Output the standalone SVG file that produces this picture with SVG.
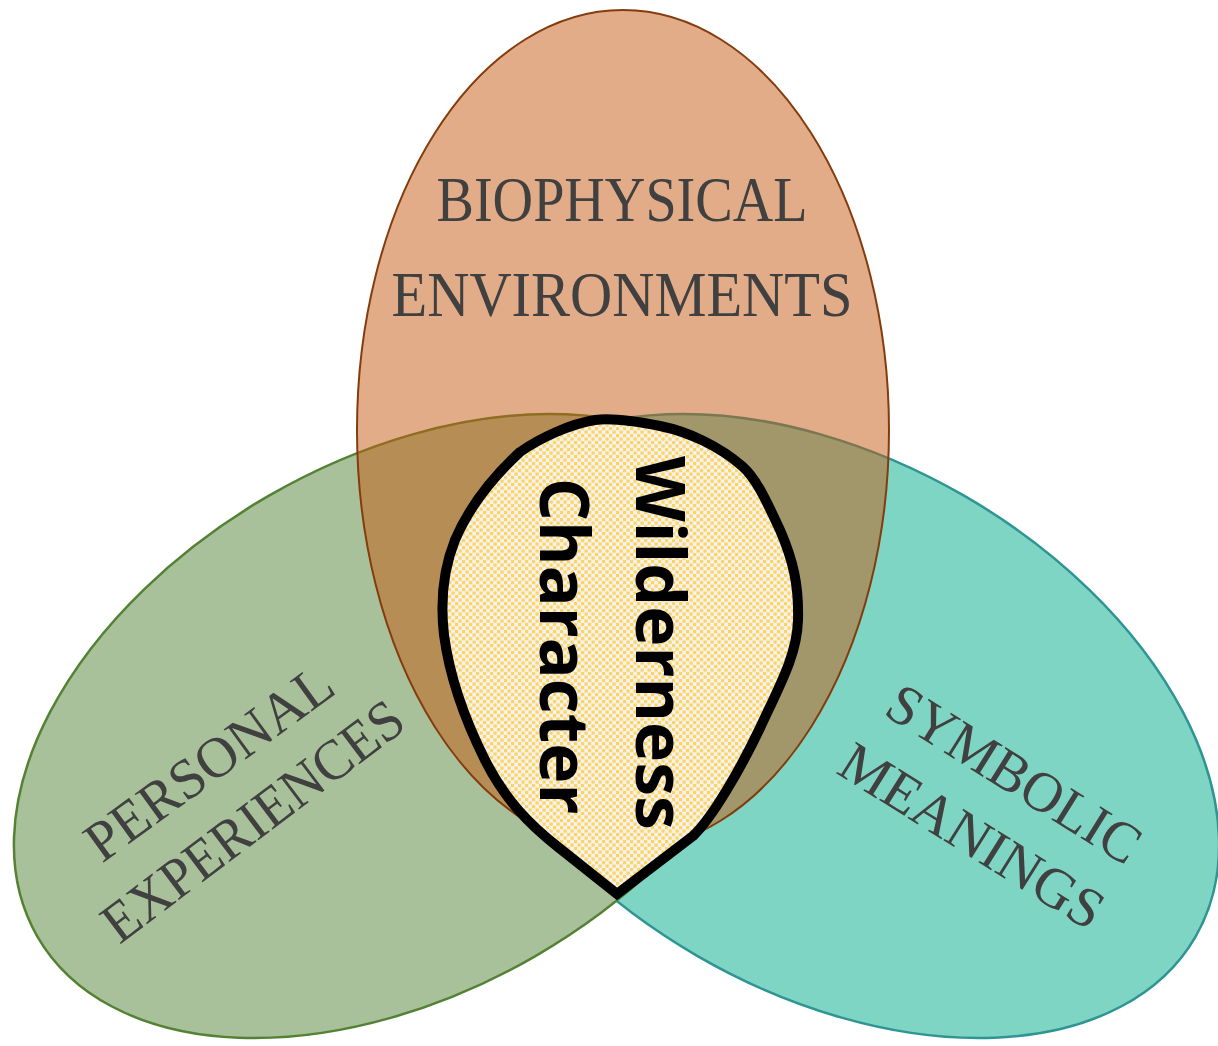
<svg xmlns="http://www.w3.org/2000/svg" width="1218" height="1046" viewBox="0 0 1218 1046">
<defs>
<style>
.lbl{font-family:"Liberation Serif","DejaVu Serif",serif;fill:#404040;text-anchor:middle;}
.core{font-family:"Open Sans","Liberation Sans",sans-serif;font-weight:bold;fill:#000;text-anchor:middle;font-size:68px;}
</style>
<pattern id="dots" width="7" height="7" patternUnits="userSpaceOnUse">
<rect width="7" height="7" fill="#f2f2f2"/>
<rect x="0" y="0" width="3.2" height="3.2" fill="#ffd45c"/>
<rect x="3.5" y="3.5" width="3.2" height="3.2" fill="#ffd45c"/>
</pattern>
</defs>
<rect width="1218" height="1046" fill="#ffffff"/>
<g id="symbolic">
<ellipse cx="831" cy="726" rx="421" ry="266" transform="rotate(30 831 726)" fill="#7fd5c4" stroke="#2e9494" stroke-width="2.5"/>
</g>
<g id="personal">
<ellipse cx="402" cy="726" rx="421" ry="266" transform="rotate(-30 402 726)" fill="#a9c19a" stroke="#548235" stroke-width="2.5"/>
</g>
<g id="biophysical">
<ellipse cx="623" cy="430" rx="266" ry="420" fill="#c55a11" fill-opacity="0.5" stroke="#843c0c" stroke-width="2"/>
<text class="lbl" x="622" y="221" font-size="64" textLength="371" lengthAdjust="spacingAndGlyphs">BIOPHYSICAL</text>
<text class="lbl" x="622" y="316" font-size="64" textLength="461" lengthAdjust="spacingAndGlyphs">ENVIRONMENTS</text>
</g>
<g id="personal-label">
<text class="lbl" font-size="57" textLength="292" lengthAdjust="spacingAndGlyphs" transform="translate(220 778) rotate(-36)">PERSONAL</text>
<text class="lbl" font-size="57" textLength="362" lengthAdjust="spacingAndGlyphs" transform="translate(264 836) rotate(-37)">EXPERIENCES</text>
</g>
<g id="symbolic-label">
<text class="lbl" font-size="57" textLength="288" lengthAdjust="spacingAndGlyphs" transform="translate(1004 790) rotate(32)">SYMBOLIC</text>
<text class="lbl" font-size="57" textLength="300" lengthAdjust="spacingAndGlyphs" transform="translate(962 852) rotate(32)">MEANINGS</text>
</g>
<g id="wilderness-character">
<path d="M617,894 L693,836 C712,818 740,770 760,728 C780,685 797,655 798,620 C799,585 793,560 780,530 C766,500 756,478 742,466 C720,447 690,432 660,426 C630,420 610,418 595,420 C570,424 540,438 520,452 C495,475 470,505 455,540 C443,570 440,600 444,635 C450,680 465,720 485,760 C505,800 530,825 558,847 Z" fill="url(#dots)" stroke="#000" stroke-width="10" stroke-linejoin="miter" stroke-miterlimit="10"/>
<text class="core" transform="translate(636 643) rotate(90)">Wilderness</text>
<text class="core" transform="translate(540 646) rotate(90)">Character</text>
</g>
</svg>
